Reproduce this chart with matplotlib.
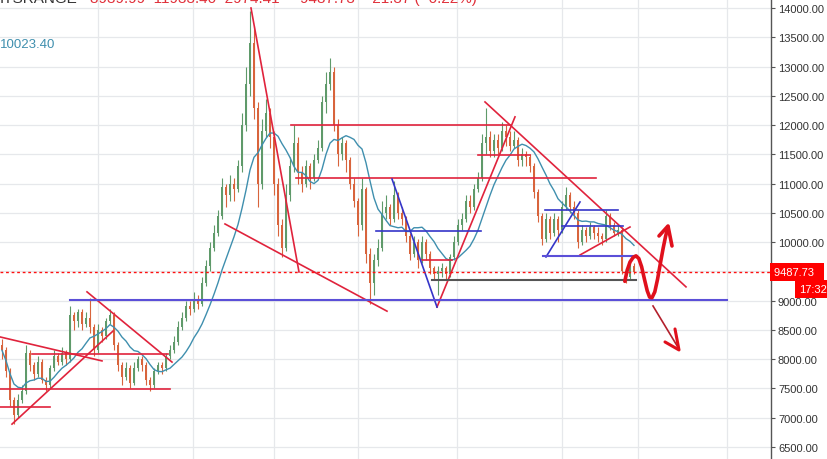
import numpy as np
import pandas as pd
import matplotlib
matplotlib.use("Agg")
import matplotlib.pyplot as plt
from matplotlib.transforms import blended_transform_factory

plt.rcParams["font.family"] = ["Liberation Sans", "DejaVu Sans"]

# --- candles (one slot = 4 px on the original) ---
first_open = 8250
closes = [
    8150, 7800, 7300, 7050, 7300, 7450, 8100, 7900, 7750, 7950,
    7650, 7550, 7850, 8050, 7950, 8100, 8000, 8750, 8650, 8800,
    8600, 8700, 8550, 8150, 8500, 8400, 8650, 8750, 8250, 7900,
    7700, 7850, 7600, 7850, 8000, 7900, 7650, 7550, 7800, 7900,
    7850, 8050, 8150, 8300, 8550, 8700, 8900, 8850, 9000, 8950,
    9300, 9600, 9900, 10150, 10450, 10950, 10800, 11000, 10900, 11300,
    12000, 12700, 13400, 12300, 11000, 11900, 12200, 11800, 11000, 10300,
    9900, 10800, 11300, 11700, 11200, 11000, 11300, 11100, 11400, 11600,
    12400, 12700, 12900, 12000, 11500, 11700, 11400, 11000, 10700, 10300,
    10900, 9800, 9300, 9700, 9900, 10500, 10600, 10400, 10800, 10500,
    10400, 10100, 9800, 10000, 9700, 10000, 9800, 9550, 9450, 9500,
    9550, 9450, 9750, 10000, 10300, 10400, 10700, 10600, 10900, 11100,
    11700, 11800, 11550, 11750, 11600, 11900, 11800, 11650, 11750, 11400,
    11500, 11450, 11300, 10850, 10450, 10050, 10400, 10150, 10400, 10200,
    10600, 10800, 10600, 10500, 10000, 10200, 10100, 10250, 10150, 10100,
    10050, 10450, 10300, 10150, 10200, 9500, 9400, 9600, 9487.73,
]
highs = [
    8350, 8200, 7850, 7350, 7400, 7550, 8250, 8150, 7950, 8050,
    8000, 7700, 7900, 8150, 8100, 8200, 8150, 8900, 8800, 8850,
    8850, 8800, 9050, 8600, 8600, 8550, 8700, 8850, 8800, 8300,
    7950, 7950, 7900, 7950, 8050, 8050, 7950, 7700, 7850, 7950,
    7950, 8100, 8250, 8400, 8650, 8800, 9000, 9000, 9150, 9100,
    9400, 9700, 10000, 10300, 10550, 11100, 11000, 11150, 11100, 11400,
    12200, 13000, 13950, 13700, 12400, 12100, 12450, 12300, 11900, 11100,
    10400, 11000, 11450, 12000, 11800, 11300, 11400, 11350, 11500, 11750,
    12500, 12900, 13150, 13000, 12100, 11800, 11750, 11450, 11100, 10750,
    11100, 10950, 9900, 9800, 10050, 10700, 10800, 10650, 11050, 10850,
    10600, 10450, 10150, 10100, 10050, 10100, 10050, 9850, 9600, 9600,
    9650, 9600, 9800, 10100, 10400, 10500, 10800, 10800, 11000, 11200,
    11850, 12300, 11900, 11850, 11850, 12050, 12000, 11900, 11900, 11800,
    11600, 11550, 11500, 11350, 10900, 10500, 10500, 10450, 10500, 10450,
    10700, 10950, 10850, 10700, 10550, 10300, 10250, 10350, 10300, 10250,
    10150, 10550, 10500, 10350, 10300, 10250, 9550, 9700, 9650,
]
lows = [
    8000, 7700, 7200, 6900, 7000, 7250, 7400, 7800, 7650, 7700,
    7600, 7450, 7500, 7800, 7900, 7900, 7900, 7950, 8500, 8550,
    8500, 8550, 8450, 8050, 8100, 8300, 8350, 8600, 8150, 7800,
    7550, 7650, 7500, 7550, 7800, 7800, 7550, 7450, 7500, 7750,
    7750, 7800, 8000, 8100, 8250, 8500, 8650, 8750, 8800, 8850,
    8900, 9250, 9500, 9850, 10100, 10400, 10600, 10700, 10700, 10850,
    11200, 11900, 12500, 12100, 10600, 10900, 11800, 11600, 10800, 10100,
    9750, 9850, 10700, 11200, 11000, 10850, 10950, 10900, 11050, 11350,
    11550, 12200, 12600, 11900, 11300, 11400, 11200, 10900, 10600, 10100,
    10200, 9650, 8950, 9100, 9600, 9850, 10400, 10300, 10350, 10400,
    10300, 10000, 9700, 9750, 9550, 9650, 9700, 9450, 9350, 9100,
    9400, 9350, 9400, 9700, 9950, 10200, 10350, 10500, 10550, 10850,
    11050, 11500, 11450, 11450, 11500, 11550, 11650, 11550, 11600, 11300,
    11300, 11300, 11200, 10750, 10350, 9950, 10000, 10050, 10100, 10000,
    10150, 10550, 10500, 10400, 9900, 9950, 10000, 10050, 10050, 10000,
    9950, 10000, 10200, 10100, 10100, 9450, 9300, 9350, 9450,
]
last_price = 9487.73
ma_window = 11

# --- drawings (candle index, price) ---
red_lines = [
    ((-0.5, 8380), (25, 7970)),
    ((2.5, 6890), (27.75, 8480)),
    ((21.25, 9150), (42.5, 7950)),
    ((7.5, 8090), (41.5, 8090)),
    ((-0.5, 7490), (42, 7490)),
    ((-0.5, 7180), (12, 7180)),
    ((62.25, 14000), (74.25, 9490)),
    ((55.75, 10310), (96.25, 8820)),
    ((72.25, 12000), (127, 12000)),
    ((73.5, 11090), (148.5, 11090)),
    ((119, 11490), (132, 11490)),
    ((108.75, 8890), (128.25, 12140)),
    ((120.75, 12395), (171, 9235)),
    ((105, 9695), (112.5, 9695)),
    ((144.5, 9780), (157, 10258)),
]
blue_lines = [
    ((97.5, 11078), (108.75, 8890)),
    ((93.5, 10190), (119.75, 10190)),
    ((135.75, 10549), (154, 10549)),
    ((140, 10275), (155.25, 10275)),
    ((136, 9746), (144.5, 10686)),
]
purple_lines = [
    ((17, 9005), (181.25, 9005)),
    ((135.25, 9763), (158.75, 9763)),
]
gray_lines = [
    ((107.5, 9353), (158.5, 9353)),
]
squiggle_x = [155.7, 156.3, 157.0, 157.8, 158.5, 159.2, 159.9, 160.6, 161.3, 161.9,
              162.5, 163.2, 163.9, 164.6, 165.3, 165.9, 166.5]
squiggle_y = [9330, 9520, 9660, 9740, 9765, 9720, 9580, 9370, 9170, 9060,
              9050, 9150, 9370, 9640, 9900, 10100, 10260]
squiggle_head_x = [164.25, 166.5, 167.5]
squiggle_head_y = [10105, 10275, 9934]
down_arrow = ((162.75, 8909), (169.25, 8174))
down_head_x = [165.75, 169.25, 168.25]
down_head_y = [8294, 8157, 8516]

grid_x = [24, 47.75, 68, 89, 113.75, 140, 159, 181.25]
y_ticks = np.arange(6500, 14001, 500)

# colours
up_col, down_col = "#5f9a6a", "#d8643c"
red_col, blue_col, purple_col = "#e0233c", "#3535c8", "#5b4fd8"

opens = [first_open] + closes[:-1]
df = pd.DataFrame({"open": opens, "high": highs, "low": lows, "close": closes})
df["ma"] = df["close"].rolling(ma_window, min_periods=1).mean()
idx = np.arange(len(df))
up = df["close"] >= df["open"]

fig = plt.figure(figsize=(8.28, 4.6), dpi=100)
ax = fig.add_axes([0, 0, 771 / 828, 1])
ax.set_xlim(-0.5, 192.25)
ax.set_ylim(6294, 14154)

for gx in grid_x:
    ax.axvline(gx, color="#e6e8eb", lw=0.9, zorder=0)
for gy in y_ticks:
    ax.axhline(gy, color="#e6e8eb", lw=0.9, zorder=0)

colors = np.where(up, up_col, down_col)
ax.vlines(idx, df["low"], df["high"], colors=colors, lw=0.8, zorder=2)
body_bot = np.minimum(df["open"], df["close"])
body_h = np.maximum(np.abs(df["close"] - df["open"]), 15)
ax.bar(idx, body_h, bottom=body_bot, width=0.6, color=colors, zorder=3)

ax.plot(idx, df["ma"], color="#3f8fae", lw=1.0, zorder=4)

for (x0, y0), (x1, y1) in red_lines:
    ax.plot([x0, x1], [y0, y1], color=red_col, lw=1.2, zorder=5)
for (x0, y0), (x1, y1) in blue_lines:
    ax.plot([x0, x1], [y0, y1], color=blue_col, lw=1.2, zorder=5)
for (x0, y0), (x1, y1) in purple_lines:
    ax.plot([x0, x1], [y0, y1], color=purple_col, lw=1.5, zorder=5)
for (x0, y0), (x1, y1) in gray_lines:
    ax.plot([x0, x1], [y0, y1], color="#555555", lw=1.5, zorder=5)

ax.plot(squiggle_x, squiggle_y, color="#e0101c", lw=2.6, zorder=6,
        solid_capstyle="round", solid_joinstyle="round")
ax.plot(squiggle_head_x, squiggle_head_y, color="#e0101c", lw=2.6, zorder=6,
        solid_capstyle="round", solid_joinstyle="round")
(ax0, ay0), (ax1, ay1) = down_arrow
ax.plot([ax0, ax1], [ay0, ay1], color="#b3202c", lw=1.2, zorder=6)
ax.plot(down_head_x, down_head_y, color="#e0101c", lw=2.2, zorder=6,
        solid_capstyle="round", solid_joinstyle="round")

ax.axhline(last_price, color="#ff1010", lw=1.0, ls=(0, (2, 2)), zorder=5)

# right price axis
ax.yaxis.tick_right()
ax.set_yticks(y_ticks)
ax.set_yticklabels([f"{v:.2f}" for v in y_ticks])
ax.tick_params(axis="y", direction="out", length=3, width=0.8, color="#555555",
               labelsize=8.0, labelcolor="#333333", pad=2)
ax.set_xticks([])
for side in ["top", "left", "bottom"]:
    ax.spines[side].set_visible(False)
ax.spines["right"].set_color("#555555")
ax.spines["right"].set_linewidth(1.0)

trans = blended_transform_factory(ax.transAxes, ax.transData)
ax.text(1.004, last_price, f"{last_price:.2f}  ", transform=trans, color="white",
        fontsize=8.0, va="center", ha="left", clip_on=False, zorder=10,
        bbox=dict(boxstyle="square,pad=0.35", fc="#ff0000", ec="none"))
fig.text(0.999, 1 - 290 / 460, "17:32", color="white", fontsize=8.0,
         va="center", ha="right", zorder=11,
         bbox=dict(boxstyle="square,pad=0.35", fc="#ff0000", ec="none"))

# header (cut off at the top edge) and MA value
hy = 1 - 3 / 460
fig.text(0.0, hy, "ITSRANGE", color="#333333", fontsize=11, va="baseline", ha="left")
fig.text(90 / 828, hy, "8939.99  11933.40  2974.41", color="#e0303a", fontsize=11,
         va="baseline", ha="left")
fig.text(300 / 828, hy, "9487.73  −21.37 (−0.22%)", color="#e0303a", fontsize=11,
         va="baseline", ha="left")
fig.text(0.0, 1 - 45 / 460, "10023.40", color="#3f8fae", fontsize=9.5,
         va="center", ha="left")

fig.savefig("out.png", dpi=100)
